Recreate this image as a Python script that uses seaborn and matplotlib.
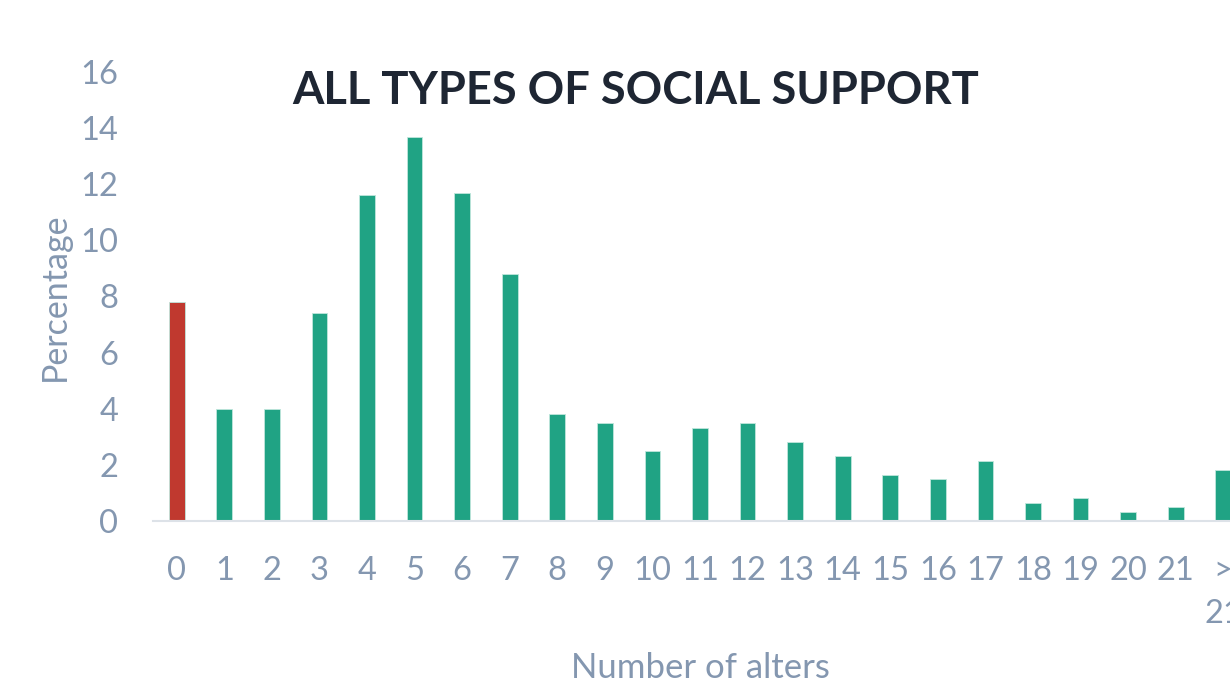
import matplotlib
matplotlib.use("Agg")
import matplotlib.pyplot as plt
import seaborn as sns
import pandas as pd

categories = ["0", "1", "2", "3", "4", "5", "6", "7", "8", "9", "10", "11",
              "12", "13", "14", "15", "16", "17", "18", "19", "20", "21", ">\n21"]
percentages = [7.8, 4.0, 4.0, 7.4, 11.6, 13.7, 11.7, 8.8, 3.8, 3.5, 2.5, 3.3,
               3.5, 2.8, 2.3, 1.65, 1.5, 2.15, 0.65, 0.82, 0.32, 0.5, 1.8]
yticks = [0, 2, 4, 6, 8, 10, 12, 14, 16]

title = "ALL TYPES OF SOCIAL SUPPORT"
xlabel = "Number of alters"
ylabel = "Percentage"

GREEN = "#20a384"
RED = "#c0392f"
TEXT = "#8497b0"

sns.set_theme(style="white")
plt.rcParams["font.family"] = ["Lato", "DejaVu Sans"]

df = pd.DataFrame({"alters": categories, "pct": percentages})
palette = {c: (RED if c == "0" else GREEN) for c in categories}

fig = plt.figure(figsize=(12.30, 6.92), dpi=100)
ax = fig.add_axes([153 / 1230, 171 / 692, 1094 / 1230, 449 / 692])

sns.barplot(data=df, x="alters", y="pct", hue="alters", order=categories,
            palette=palette, legend=False, width=0.33, saturation=1,
            edgecolor="#bfe6dc", linewidth=0.6, ax=ax)

ax.set_xlim(-0.5, len(categories) - 0.5)
ax.set_ylim(0, 16)
ax.set_yticks(yticks)
ax.set_yticklabels([str(t) for t in yticks])

for side in ["top", "right", "left"]:
    ax.spines[side].set_visible(False)
ax.spines["bottom"].set_color("#dde2e8")
ax.spines["bottom"].set_linewidth(1.5)

ax.tick_params(axis="x", length=0, pad=25, labelsize=23.5, labelcolor=TEXT)
ax.tick_params(axis="y", length=0, pad=25, labelsize=23.5, labelcolor=TEXT)
for lbl in ax.get_xticklabels():
    lbl.set_linespacing(1.55)

ax.set_xlabel("")
ax.set_ylabel("")
fig.text(700 / 1230, 1 - 668 / 692, xlabel, ha="center", va="center",
         fontsize=25, color=TEXT)
fig.text(55 / 1230, 1 - 297 / 692, ylabel, ha="center", va="center",
         rotation=90, fontsize=24.5, color=TEXT)
fig.text(636 / 1230, 1 - 91 / 692, title, ha="center", va="center",
         fontsize=32.6, fontweight="bold", color="#1e2633")

fig.savefig("out.png", dpi=100)
